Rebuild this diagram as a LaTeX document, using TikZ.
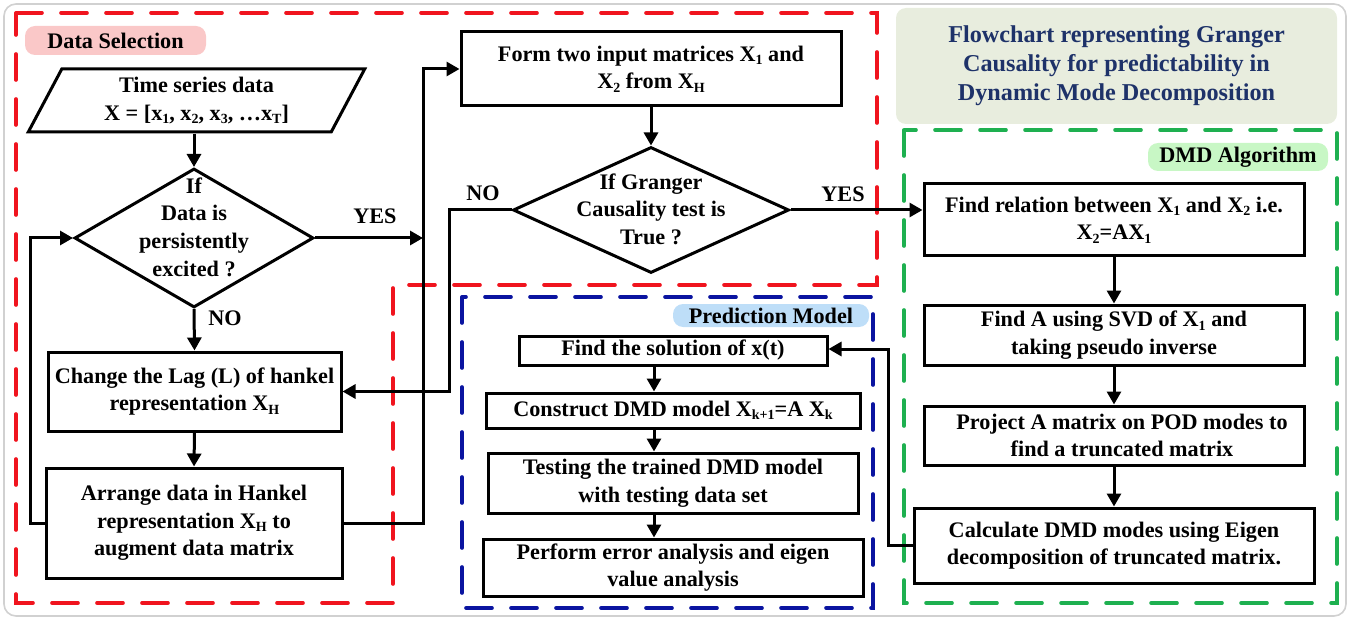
\documentclass[tikz,border=0pt]{standalone}
\usepackage{fontspec}
\setmainfont{Liberation Serif}
\usetikzlibrary{arrows.meta,shapes.geometric}
\definecolor{dsred}{RGB}{240,20,30}
\definecolor{pmblue}{RGB}{10,20,160}
\definecolor{dmdgreen}{RGB}{30,176,80}
\definecolor{titlebg}{RGB}{232,237,222}
\definecolor{titlefg}{RGB}{30,50,105}
\definecolor{pinkbg}{RGB}{250,200,200}
\definecolor{greenbg}{RGB}{200,247,197}
\definecolor{bluebg}{RGB}{190,222,248}
\newcommand\sbx[1]{\raisebox{-0.35ex}{\fontsize{7}{7}\selectfont #1}}
\begin{document}
\begin{tikzpicture}[x=0.5pt,y=-0.5pt,
 every node/.style={font=\bfseries\fontsize{11.1}{13.8}\selectfont},
 box/.style={draw, line width=1.5pt, inner sep=0pt, align=center},
 arr/.style={line width=1.5pt, -{Triangle[length=6.5pt,width=7pt]}},
 frame/.style={line width=1.8pt, line cap=round, dash pattern=on 13pt off 9.5pt},
 tag/.style={rounded corners=5pt, inner sep=0pt, align=center},
 lbl/.style={inner sep=0pt, align=center}
]
\useasboundingbox (0,0) rectangle (1354,620);
\draw[black!18, line width=0.8pt, rounded corners=6pt] (4,4) rectangle (1346,616);

% frames
\draw[frame, dsred] (16,13) -- (877,13) -- (877,285) -- (393,285) -- (393,603) -- (16,603) -- cycle;
\draw[frame, dmdgreen] (904,130) rectangle (1337,603);
\draw[frame, pmblue] (462,297) rectangle (873,608);

% tags
\node[tag, fill=pinkbg, minimum width=90.5pt, minimum height=14.5pt] (tagds) at (115.5,40.5) {Data Selection};
\node[tag, fill=bluebg, minimum width=98pt, minimum height=11.5pt] (tagpm) at (771,315.5) {Prediction Model};
\node[tag, fill=greenbg, minimum width=90pt, minimum height=14pt] (tagdmd) at (1238,157) {DMD Algorithm};
\node[tag, fill=titlebg, minimum width=220.5pt, minimum height=58pt, text=titlefg,
  font=\bfseries\fontsize{12.1}{14.5}\selectfont] (title) at (1116.5,66)
  {Flowchart representing Granger\\Causality for predictability in\\Dynamic Mode Decomposition};

% data selection
\node[box, trapezium, trapezium left angle=63.8, trapezium right angle=116.2, trapezium stretches=true,
  minimum width=168.5pt, minimum height=31.5pt] (ts) at (196.5,100.5)
  {Time series data\\X = [x\sbx{1}, x\sbx{2}, x\sbx{3}, \ldots x\sbx{T}]};
\node[box, diamond, minimum width=119.5pt, minimum height=69.5pt] (d1) at (194,238) {};
\node[lbl] (d1t) at (194,227) {If\\Data is\\persistently\\excited ?};
\node[box, minimum width=146.5pt, minimum height=39.5pt] (chg) at (194.5,391.5)
  {Change the Lag (L) of hankel\\representation X\sbx{H}};
\node[box, minimum width=148pt, minimum height=55pt] (arrg) at (194,523)
  {Arrange data in Hankel\\representation X\sbx{H} to\\augment data matrix};

\node[box, minimum width=190pt, minimum height=37pt] (form) at (651,69)
  {Form two input matrices X\sbx{1} and\\X\sbx{2} from X\sbx{H}};
\node[box, diamond, minimum width=138pt, minimum height=63pt] (d2) at (651,210) {};
\node[lbl] (d2t) at (651,209) {If Granger\\Causality test is\\True ?};

% DMD algorithm
\node[box, minimum width=190pt, minimum height=36pt] (m1) at (1114,220)
  {Find relation between X\sbx{1} and X\sbx{2} i.e.\\X\sbx{2}=AX\sbx{1}};
\node[box, minimum width=190pt, minimum height=30pt] (m2) at (1114,335)
  {Find A using SVD of X\sbx{1} and\\taking pseudo inverse};
\node[box, minimum width=190pt, minimum height=29.5pt] (m3) at (1114,435.5)
  {\hspace*{8pt}Project A matrix on POD modes to\\\hspace*{8pt}find a truncated matrix};
\node[box, minimum width=200pt, minimum height=37.5pt] (m4) at (1114,545.5)
  {Calculate DMD modes using Eigen\\decomposition of truncated matrix.};

% prediction model
\node[box, minimum width=154pt, minimum height=14.5pt] (p1) at (673,350.5) {Find the solution of x(t)};
\node[box, minimum width=187pt, minimum height=17.5pt] (p2) at (673,410.5) {Construct DMD model X\sbx{k+1}=A X\sbx{k}};
\node[box, minimum width=185pt, minimum height=30pt] (p3) at (673,483) {Testing the trained DMD model\\with testing data set};
\node[box, minimum width=190pt, minimum height=28.5pt] (p4) at (673,567.5) {Perform error analysis and eigen\\value analysis};

% labels
\node[lbl] (yes1) at (375,216) {YES};
\node[lbl] (no1) at (225,318) {NO};
\node[lbl] (no2) at (483,193) {NO};
\node[lbl] (yes2) at (843,194) {YES};

% coordinates
\coordinate (jy) at (423,238);
\coordinate (jt) at (423,69);
\coordinate (jn) at (449,391.5);
\coordinate (jl) at (30,238);
\coordinate (jf) at (888,349);
\coordinate (ax) at (654,0);

% connectors
\draw[arr] (ts.south -| d1.north) -- (d1.north);
\draw[arr] (d1.east) -- (jy);
\draw[arr] (arrg.east) -| (jt) -- (form.west);
\draw[arr] (form.south) -- (d2.north);
\draw[arr] (d2.east) -- (d2.east -| m1.west);
\draw[arr] (d2.west) -| (jn) -- (chg.east);
\draw[arr] (d1.south) -- (chg.north);
\draw[arr] (chg.south) -- (arrg.north);
\draw[arr] (arrg.west) -| (jl) -- (d1.west);
\draw[arr] (m1.south) -- (m2.north);
\draw[arr] (m2.south) -- (m3.north);
\draw[arr] (m3.south) -- (m4.north);
\draw[arr] (m4.west) -| (jf) -- (jf -| p1.east);
\draw[arr] (p1.south -| ax) -- (p2.north -| ax);
\draw[arr] (p2.south -| ax) -- (p3.north -| ax);
\draw[arr] (p3.south -| ax) -- (p4.north -| ax);
\end{tikzpicture}
\end{document}
